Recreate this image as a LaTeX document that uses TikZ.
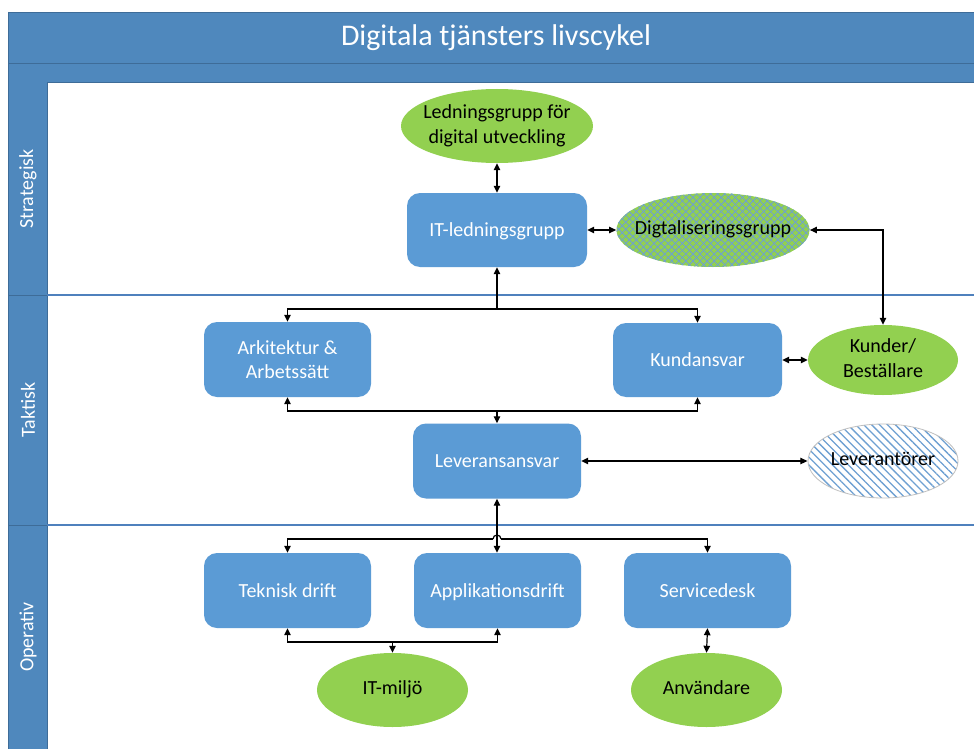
\documentclass[tikz,border=0pt]{standalone}
\usepackage{fontspec}
\setmainfont{Carlito}
\usetikzlibrary{shapes.geometric,arrows.meta,patterns.meta,calc}
\definecolor{hdrblue}{RGB}{79,136,189}
\definecolor{hdrline}{RGB}{62,108,152}
\definecolor{boxblue}{RGB}{91,155,213}
\definecolor{leafgreen}{RGB}{146,208,80}
\definecolor{hatchblue}{RGB}{110,160,210}
\definecolor{lanecol}{RGB}{79,129,189}
\newcommand\zw[1]{\makebox[0pt]{\begin{tabular}{@{}c@{}}#1\end{tabular}}}
\begin{document}
\begin{tikzpicture}[x=1pt,y=-1pt,
  nodefont/.style={font=\fontsize{20}{24.5}\selectfont},
  bluebox/.style={nodefont, rectangle, rounded corners=13pt, fill=boxblue, text=white,
    minimum width=168pt, minimum height=75pt, inner sep=0pt, align=center},
  oneline/.style={text height=17pt, text depth=4pt},
  greenell/.style={nodefont, ellipse, fill=leafgreen, text=black,
    minimum width=151pt, minimum height=74pt, inner sep=0pt},
  conn/.style={draw=black, line width=1.2pt},
  tip/.style={-{Triangle[length=7pt,width=6.5pt]}},
  tips/.style={{Triangle[length=7pt,width=6.5pt]}-{Triangle[length=7pt,width=6.5pt]}},
  lanelabel/.style={font=\fontsize{20}{24}\selectfont, text=white, rotate=90}
]
\useasboundingbox (0,0) rectangle (974,749);
\fill[white] (0,0) rectangle (974,749);
% header
\fill[hdrblue] (8,12) rectangle (974,83);
\fill[hdrblue] (8,83) rectangle (47,749);
\draw[hdrline, line width=0.8pt] (8,12) -- (974,12);
\draw[hdrline, line width=0.8pt] (8,12) -- (8,749);
\draw[hdrline, line width=1pt] (8,64) -- (974,64);
\draw[hdrline, line width=1pt] (47,83) -- (974,83);
\draw[hdrline, line width=1pt] (47,83) -- (47,749);
\draw[hdrline, line width=1pt] (8,295) -- (47,295);
\draw[hdrline, line width=1pt] (8,525) -- (47,525);
\node[font=\fontsize{30}{36}\selectfont, text=white] (title) at (496,38) {Digitala tjänsters livscykel};
% lanes
\draw[lanecol, line width=1.2pt] (47,295) -- (974,295);
\draw[lanecol, line width=1.2pt] (47,525) -- (974,525);
\node[lanelabel] (lstrat) at (28,189) {Strategisk};
\node[lanelabel] (ltakt) at (28,410) {Taktisk};
\node[lanelabel] (loper) at (28,637) {Operativ};
% nodes
\node[greenell, minimum width=192pt] (led) at (497,126) {\zw{Ledningsgrupp för\\digital utveckling}};
\node[bluebox, oneline, minimum width=180pt, minimum height=74pt] (itl) at (497,230) {IT-ledningsgrupp};
\node[greenell, minimum width=193pt,
  preaction={fill=leafgreen},
  pattern={Lines[angle=45,distance=5pt,line width=0.8pt]}, pattern color=hatchblue,
  postaction={pattern={Lines[angle=-45,distance=5pt,line width=0.8pt]}, pattern color=hatchblue}] (dig) at (713,230) {\zw{Digtaliseringsgrupp}};
\node[bluebox, minimum width=167pt] (ark) at (287.5,359.5) {Arkitektur \&\\Arbetssätt};
\node[bluebox, oneline, minimum width=169pt, minimum height=74pt] (kan) at (697.5,360) {Kundansvar};
\node[greenell, minimum width=150pt, minimum height=70pt] (kb) at (883,360) {\zw{Kunder/\\Beställare}};
\node[bluebox, oneline] (lev) at (497,461) {Leveransansvar};
\node[greenell, minimum width=150pt, draw=black!25, line width=0.8pt, fill=none,
  preaction={fill=white},
  pattern={Lines[angle=-45,distance=5.6pt,line width=1.3pt]}, pattern color=hatchblue] (lvt) at (883,461) {\zw{Leverantörer}};
\node[bluebox, oneline, minimum width=167pt] (tek) at (287.5,590.5) {Teknisk drift};
\node[bluebox, oneline, minimum width=167pt] (app) at (497.5,590.5) {Applikationsdrift};
\node[bluebox, oneline, minimum width=167pt] (srv) at (707.5,590.5) {Servicedesk};
\node[greenell] (itm) at (392.5,690) {\zw{IT-miljö}};
\node[greenell] (anv) at (706.5,690) {\zw{Användare}};
% bus points
\coordinate (b1) at (497,309);
\coordinate (b2) at (497,411);
\coordinate (b3) at (497,539);
\coordinate (b4) at (392.5,642);
% connectors
\draw[conn, tips] (led.south) -- (itl.north);
\draw[conn, tips] (itl.east) -- (dig.west);
\draw[conn, tips] (dig.east) -| (kb.north);
\draw[conn, tip] (b1) -- (itl.south);
\draw[conn, tip] (b1) -| (ark.north);
\draw[conn, tip] (b1) -| (kan.north);
\draw[conn, tip] (b2) -- (lev.north);
\draw[conn, tip] (b2) -| (ark.south);
\draw[conn, tip] (b2) -| (kan.south);
\draw[conn, tips] (kan.east) -- (kb.west);
\draw[conn, tips] (lev.east) -- (lvt.west);
\draw[conn, tips] (lev.south) -- (lev.south |- app.north);
\coordinate (h1) at ($(b3)+(-4,0)$);
\coordinate (h2) at ($(b3)+(4,0)$);
\draw[conn, tip] (h1) -| (tek.north);
\draw[conn, tip] (h2) -| (srv.north);
\draw[conn] (h1) arc (180:360:4);
\draw[conn, tip] (b4) -- (itm.north);
\draw[conn, tip] (b4) -| (tek.south);
\draw[conn, tip] (b4) -| (app.south);
\draw[conn, tips] (srv.south) -- (anv.north);
\end{tikzpicture}
\end{document}
